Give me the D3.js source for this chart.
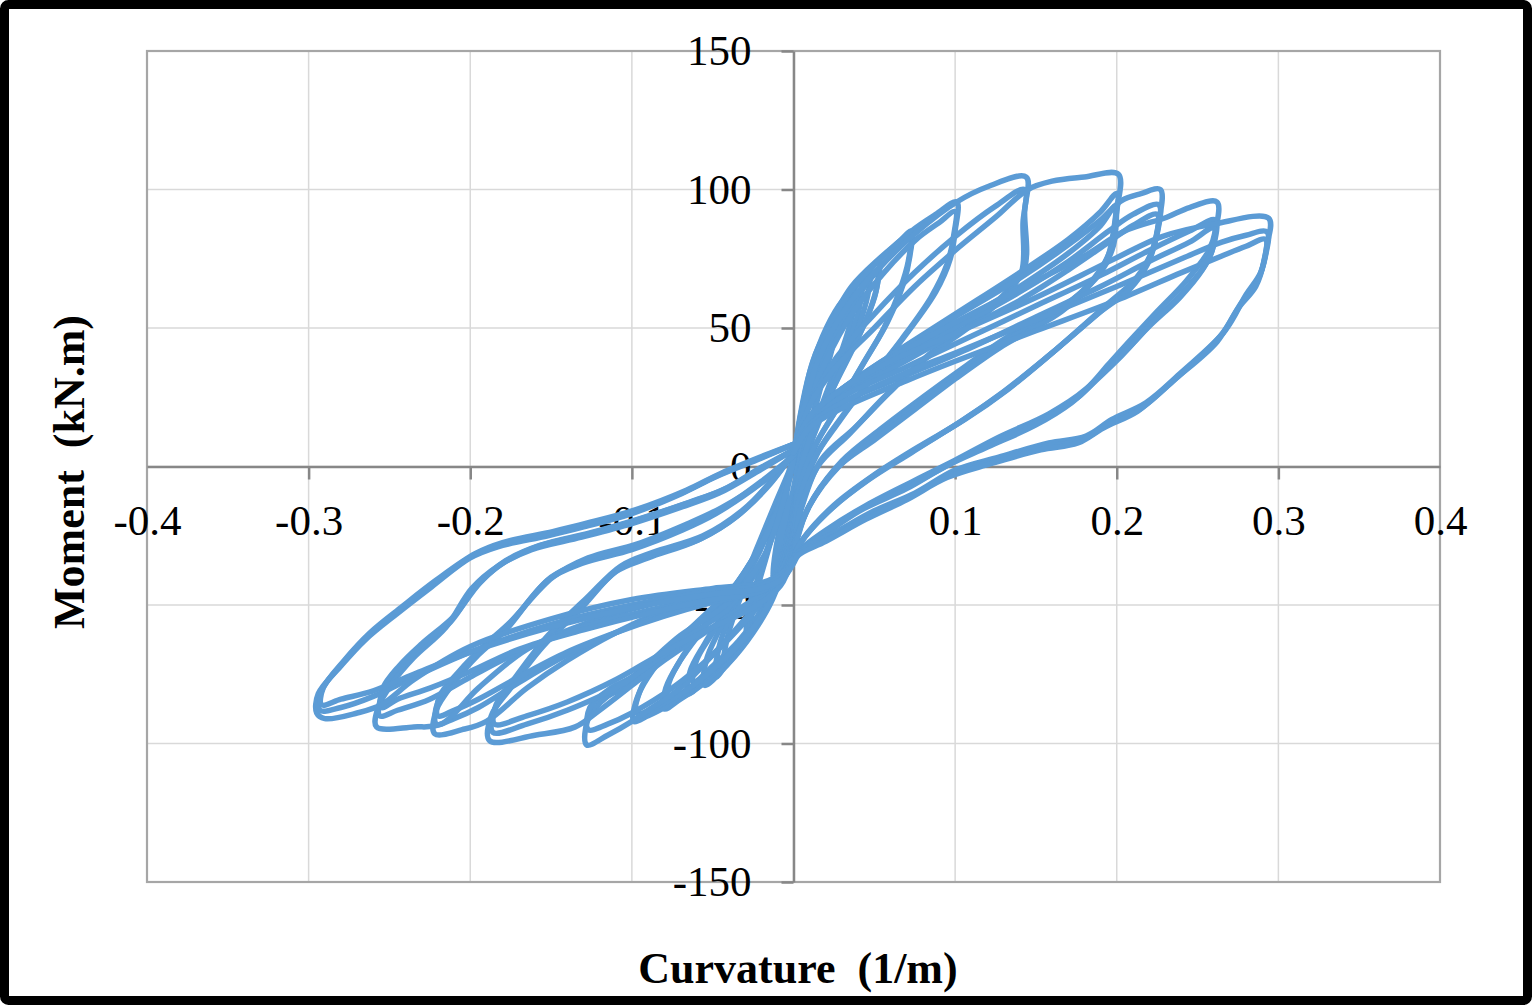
<!DOCTYPE html>
<html>
<head>
<meta charset="utf-8">
<script src="https://cdn.jsdelivr.net/npm/d3@7"></script>
<style>
  html, body { margin: 0; padding: 0; background: #fff; }
  svg { display: block; }
</style>
</head>
<body>
<script>
// ---------- Axis ticks ----------
const xTickValues = [-0.4, -0.3, -0.2, -0.1, 0, 0.1, 0.2, 0.3, 0.4];
const xTickLabels = ["-0.4", "-0.3", "-0.2", "-0.1", "0", "0.1", "0.2", "0.3", "0.4"];
const yTickValues = [-150, -100, -50, 0, 50, 100, 150];
const yTickLabels = ["-150", "-100", "-50", "0", "50", "100", "150"];
const xTitle = "Curvature  (1/m)";
const yTitle = "Moment  (kN.m)";

// ---------- Hysteresis cycles [curvature, moment] ----------
const cycleS1 = [[0,0],[0.004,14],[0.008,26],[0.011,33],[0.009,24],[0.005,10],[0.001,-5],[-0.004,-18],[-0.009,-30],[-0.013,-40],[-0.011,-30],[-0.006,-15],[-0.002,-3],[0,2]];
const cycleS2 = [[0,2],[0.005,18],[0.011,32],[0.017,42],[0.023,50],[0.022,42],[0.016,28],[0.009,12],[0.003,-4],[0,-14],[-0.005,-28],[-0.012,-42],[-0.019,-52],[-0.026,-58],[-0.024,-48],[-0.017,-33],[-0.009,-17],[-0.003,-5],[0,3]];
const cycleS2b = [[0,1],[0.006,19],[0.013,34],[0.02,44],[0.025,52],[0.024,43],[0.017,29],[0.01,13],[0.003,-3],[0,-15],[-0.006,-30],[-0.014,-44],[-0.022,-54],[-0.029,-61],[-0.027,-50],[-0.019,-35],[-0.01,-18],[-0.003,-5],[0,2]];
const cycleS3 = [[0,3],[0.006,20],[0.013,36],[0.022,49],[0.03,58],[0.038,64],[0.037,56],[0.03,42],[0.02,26],[0.01,10],[0.003,-6],[0,-16],[-0.006,-32],[-0.015,-48],[-0.026,-60],[-0.036,-68],[-0.043,-72],[-0.041,-62],[-0.032,-46],[-0.02,-28],[-0.009,-12],[-0.002,-2],[0,3]];
const cycleS3b = [[0,3],[0.007,22],[0.015,38],[0.025,52],[0.034,61],[0.042,67],[0.041,58],[0.034,44],[0.023,28],[0.012,11],[0.004,-6],[0,-18],[-0.007,-34],[-0.017,-50],[-0.029,-62],[-0.04,-70],[-0.048,-76],[-0.046,-65],[-0.036,-49],[-0.023,-30],[-0.011,-13],[-0.003,-2],[0,3]];
const cycleS4 = [[0,2],[0.004,18],[0.01,34],[0.018,47],[0.028,58],[0.04,66],[0.047,70],[0.046,62],[0.04,50],[0.031,37],[0.02,22],[0.01,7],[0.003,-8],[0,-20],[-0.005,-34],[-0.013,-48],[-0.025,-60],[-0.04,-71],[-0.055,-79],[-0.054,-70],[-0.045,-58],[-0.032,-43],[-0.019,-27],[-0.008,-12],[-0.002,-2],[0,2]];

const cycleA1 = [[0,3],[0.005,20],[0.012,37],[0.022,51],[0.036,64],[0.046,70],[0.053,74.5],[0.052,66],[0.047,56],[0.038,44],[0.026,30],[0.014,15],[0.005,0],[0,-18],[-0.005,-32],[-0.015,-48],[-0.03,-62],[-0.05,-74],[-0.065,-82],[-0.064,-74],[-0.055,-64],[-0.04,-50],[-0.025,-35],[-0.012,-18],[-0.003,-5],[0,2]];
const cycleA2 = [[0,2],[0.007,20],[0.016,36],[0.028,50],[0.04,62],[0.052,70],[0.051,63],[0.045,53],[0.036,42],[0.024,28],[0.012,13],[0.004,-2],[0,-20],[-0.006,-34],[-0.018,-50],[-0.034,-63],[-0.05,-72],[-0.062,-78],[-0.06,-70],[-0.05,-60],[-0.036,-47],[-0.022,-32],[-0.01,-16],[-0.003,-4],[0,2]];

const cycleB1 = [[0,2],[0.005,20],[0.012,38],[0.022,51],[0.036,65],[0.053,75],[0.065,81],[0.073,85],[0.072,76],[0.068,66],[0.058,52],[0.044,38],[0.028,22],[0.014,8],[0.004,-8],[0,-22],[-0.006,-36],[-0.018,-52],[-0.035,-66],[-0.055,-78],[-0.07,-84],[-0.08,-87.5],[-0.079,-80],[-0.07,-70],[-0.055,-58],[-0.038,-45],[-0.02,-28],[-0.007,-10],[0,3]];
const cycleB2 = [[0,3],[0.008,22],[0.018,38],[0.032,54],[0.048,68],[0.062,77],[0.072,82],[0.071,74],[0.066,64],[0.056,50],[0.042,36],[0.026,20],[0.012,6],[0.003,-9],[0,-23],[-0.007,-38],[-0.02,-53],[-0.038,-67],[-0.058,-78],[-0.078,-85],[-0.077,-78],[-0.068,-68],[-0.053,-56],[-0.036,-43],[-0.018,-26],[-0.006,-9],[0,3]];

const cycleC1 = [[0,3],[0.005,19],[0.012,36],[0.022,50],[0.036,64],[0.053,74.5],[0.073,85],[0.088,91],[0.101,95.5],[0.1,85],[0.097,75],[0.088,63],[0.07,48],[0.05,33],[0.03,18],[0.015,5],[0.004,-12],[0,-25],[-0.008,-40],[-0.02,-54],[-0.04,-68],[-0.06,-78],[-0.08,-87],[-0.09,-90],[-0.099,-92],[-0.097,-84],[-0.09,-76],[-0.075,-65],[-0.055,-54],[-0.035,-42],[-0.015,-22],[-0.004,-5],[0,4]];
const cycleC2 = [[0,4],[0.008,21],[0.02,38],[0.036,55],[0.056,70],[0.076,82],[0.09,88],[0.1,92],[0.099,83],[0.095,73],[0.085,61],[0.067,46],[0.047,31],[0.028,16],[0.013,3],[0.003,-13],[0,-26],[-0.009,-42],[-0.022,-56],[-0.042,-69],[-0.062,-79],[-0.082,-86],[-0.097,-89],[-0.095,-81],[-0.087,-73],[-0.072,-63],[-0.052,-52],[-0.032,-40],[-0.013,-20],[-0.003,-4],[0,4]];

const cycleD1 = [[0,4],[0.006,20],[0.015,38],[0.03,55],[0.05,70],[0.075,84],[0.101,95.5],[0.12,101],[0.144,104.5],[0.143,92],[0.143,72],[0.131,62.6],[0.113,53],[0.085,41],[0.059,26.5],[0.038,14],[0.017,2.3],[0.005,-15],[0,-28],[-0.01,-40],[-0.03,-55],[-0.05,-68],[-0.07,-80],[-0.09,-88],[-0.1,-92],[-0.115,-97],[-0.128,-100.5],[-0.127,-91],[-0.115,-83],[-0.104,-79.6],[-0.073,-64],[-0.042,-52],[-0.02,-35],[-0.006,-12],[0,3]];
const cycleD2 = [[0,3],[0.01,22],[0.025,38],[0.05,55],[0.075,70],[0.1,83],[0.125,94],[0.143,100],[0.142,88],[0.141,70],[0.128,60],[0.11,51],[0.082,39],[0.056,25],[0.035,12],[0.015,0],[0.004,-16],[0,-29],[-0.01,-42],[-0.03,-56],[-0.05,-68],[-0.075,-80],[-0.1,-89],[-0.115,-93],[-0.127,-95],[-0.126,-87],[-0.113,-80],[-0.1,-76],[-0.07,-61],[-0.04,-49],[-0.018,-32],[-0.005,-10],[0,3]];

const cycleE1 = [[0,5],[0.01,22],[0.025,35],[0.05,50],[0.075,65],[0.1,78],[0.125,90],[0.145,100],[0.16,103],[0.18,104.5],[0.201,105.5],[0.2,92],[0.198,80],[0.19,70],[0.172,60],[0.152,53],[0.133,47],[0.106,36],[0.08,25],[0.055,14],[0.03,2],[0.012,-12],[0.002,-25],[0,-30],[-0.01,-42],[-0.03,-50],[-0.055,-60],[-0.08,-70],[-0.1,-79],[-0.12,-88],[-0.135,-94],[-0.16,-97],[-0.188,-99],[-0.187,-90],[-0.175,-80],[-0.155,-65],[-0.131,-51],[-0.11,-38],[-0.09,-33],[-0.059,-26.5],[-0.035,-18],[-0.015,-6],[0,5]];
const cycleE2 = [[0,5],[0.01,18],[0.03,28],[0.06,40],[0.1,55],[0.14,70],[0.17,82],[0.19,92],[0.2,98.5],[0.199,88],[0.196,78],[0.186,68],[0.168,58],[0.148,51],[0.13,45],[0.103,34],[0.078,23],[0.053,12],[0.028,0],[0.01,-14],[0.002,-26],[0,-31],[-0.008,-42],[-0.025,-50],[-0.05,-58],[-0.08,-68],[-0.11,-80],[-0.14,-88],[-0.165,-93],[-0.186,-96],[-0.185,-88],[-0.173,-78],[-0.153,-63],[-0.129,-49],[-0.108,-37],[-0.088,-32],[-0.057,-26],[-0.033,-17],[-0.014,-6],[0,5]];
const cycleE3 = [[0,5],[0.01,17],[0.03,26],[0.06,37],[0.1,51],[0.14,65],[0.17,77],[0.19,87],[0.199,94],[0.198,85],[0.194,75],[0.184,66],[0.166,56],[0.146,49],[0.128,43],[0.101,32],[0.076,21],[0.051,10],[0.026,-1],[0.009,-15],[0.002,-27],[0,-32],[-0.008,-43],[-0.025,-51],[-0.05,-58],[-0.08,-67],[-0.11,-77],[-0.14,-85],[-0.165,-90],[-0.185,-93],[-0.184,-86],[-0.172,-76],[-0.152,-61],[-0.128,-47.5],[-0.107,-36],[-0.087,-31],[-0.056,-25],[-0.032,-16],[-0.013,-5],[0,5]];

const cycleF1 = [[0,5],[0.01,18],[0.03,28],[0.06,40],[0.1,54],[0.14,68],[0.17,80],[0.19,89],[0.203,96],[0.215,98.5],[0.227,100],[0.226,88],[0.222,78],[0.212,68],[0.193,58],[0.164,43],[0.133,28],[0.106,17],[0.077,7],[0.05,-3],[0.025,-14],[0.006,-26],[0,-32],[-0.006,-38],[-0.02,-43],[-0.05,-47],[-0.08,-52],[-0.11,-60],[-0.14,-70],[-0.165,-80],[-0.19,-92],[-0.205,-95],[-0.222,-96.5],[-0.221,-88],[-0.21,-78],[-0.195,-68],[-0.178,-59],[-0.152,-41],[-0.131,-35],[-0.1,-30],[-0.069,-23],[-0.048,-17],[-0.02,-6],[0,4]];
const cycleF2 = [[0,4],[0.01,17],[0.03,26],[0.06,37],[0.1,50],[0.14,63],[0.17,74],[0.195,85],[0.21,91],[0.226,94.5],[0.225,84],[0.22,75],[0.21,66],[0.19,56],[0.16,41],[0.13,27],[0.103,16],[0.075,6],[0.048,-4],[0.024,-15],[0.005,-27],[0,-33],[-0.006,-39],[-0.02,-44],[-0.05,-48],[-0.08,-53],[-0.11,-60],[-0.14,-68],[-0.17,-78],[-0.195,-87],[-0.21,-91],[-0.221,-93],[-0.22,-85],[-0.208,-76],[-0.193,-66],[-0.176,-57],[-0.15,-40],[-0.128,-34],[-0.098,-29],[-0.068,-22],[-0.046,-16],[-0.019,-5],[0,4]];
const cycleF3 = [[0,4],[0.01,16],[0.03,25],[0.06,35],[0.1,48],[0.14,60],[0.17,71],[0.195,81],[0.21,87],[0.225,91],[0.224,82],[0.219,73],[0.208,64],[0.188,55],[0.158,40],[0.128,26],[0.1,15],[0.073,5],[0.046,-5],[0.022,-16],[0.004,-28],[0,-33],[-0.006,-40],[-0.02,-45],[-0.05,-49],[-0.08,-54],[-0.11,-60],[-0.14,-67],[-0.17,-76],[-0.195,-84],[-0.21,-88],[-0.22,-90],[-0.219,-83],[-0.207,-74],[-0.192,-65],[-0.175,-56],[-0.149,-40],[-0.127,-33],[-0.097,-28],[-0.067,-21],[-0.045,-15],[-0.018,-5],[0,4]];

const cycleG1 = [[0,6],[0.01,18],[0.03,28],[0.06,39],[0.1,52],[0.14,64],[0.18,76],[0.205,85],[0.231,90],[0.245,93.5],[0.262,95.5],[0.261,85],[0.257,78],[0.243,67],[0.225,56],[0.209,46],[0.195,37],[0.181,28],[0.158,19],[0.127,10.6],[0.1,2.3],[0.075,-5],[0.045,-14],[0.02,-23],[0.004,-30],[0,-33],[-0.006,-39],[-0.02,-43],[-0.05,-46],[-0.09,-50],[-0.13,-57],[-0.165,-66],[-0.195,-80],[-0.218,-93],[-0.235,-94],[-0.258,-94],[-0.257,-87],[-0.248,-78],[-0.235,-69],[-0.215,-58],[-0.199,-44],[-0.183,-36],[-0.162,-30],[-0.131,-25.5],[-0.1,-20.6],[-0.069,-14.6],[-0.046,-9.6],[-0.02,-1],[0,6]];
const cycleG2 = [[0,5],[0.01,16],[0.03,25],[0.07,36],[0.11,47],[0.15,58],[0.19,69],[0.22,78],[0.245,85],[0.261,89],[0.26,80],[0.255,73],[0.241,63],[0.222,52],[0.206,42],[0.19,33],[0.176,25],[0.154,17],[0.124,9],[0.097,1],[0.072,-7],[0.043,-15],[0.019,-24],[0.004,-31],[0,-34],[-0.006,-40],[-0.02,-44],[-0.05,-47],[-0.09,-52],[-0.13,-58],[-0.17,-67],[-0.2,-76],[-0.225,-84],[-0.245,-88],[-0.256,-90],[-0.255,-83],[-0.246,-75],[-0.232,-66],[-0.212,-56],[-0.196,-43],[-0.18,-35],[-0.159,-29],[-0.128,-24.5],[-0.098,-19.5],[-0.067,-13.5],[-0.044,-8.5],[-0.019,0],[0,6]];
const cycleG3 = [[0,5],[0.01,15],[0.03,23],[0.07,33],[0.11,43],[0.15,54],[0.19,65],[0.22,74],[0.245,81],[0.26,86],[0.259,78],[0.253,71],[0.239,61],[0.219,50],[0.203,40],[0.187,31],[0.172,23],[0.15,15],[0.12,7],[0.094,0],[0.07,-8],[0.041,-16],[0.018,-25],[0.003,-31],[0,-34],[-0.006,-40],[-0.02,-45],[-0.05,-48],[-0.09,-53],[-0.13,-59],[-0.17,-66],[-0.2,-74],[-0.225,-80],[-0.245,-84],[-0.255,-87],[-0.254,-80],[-0.244,-72],[-0.23,-64],[-0.21,-54],[-0.194,-42],[-0.178,-34],[-0.157,-28.5],[-0.126,-24],[-0.096,-19],[-0.065,-13],[-0.042,-8],[-0.018,0],[0,6]];

const cycleH1 = [[0,6],[0.01,18],[0.03,28],[0.06,38],[0.1,48],[0.15,61],[0.197,74.5],[0.228,83],[0.26,87.5],[0.294,89.6],[0.293,80],[0.289,70],[0.28,62],[0.267,49],[0.24,34],[0.218,23],[0.197,17],[0.181,11],[0.158,8.5],[0.127,3.4],[0.1,-1.3],[0.075,-9.6],[0.05,-16],[0.025,-24],[0.005,-30],[0,-33],[-0.006,-38],[-0.02,-42],[-0.05,-44],[-0.1,-48],[-0.15,-55],[-0.2,-65],[-0.235,-77],[-0.255,-86],[-0.27,-89],[-0.29,-91],[-0.295,-89],[-0.294,-82],[-0.28,-72],[-0.265,-62.6],[-0.245,-53],[-0.224,-43.5],[-0.2,-33],[-0.183,-29],[-0.152,-25],[-0.131,-22],[-0.1,-17],[-0.069,-9.7],[-0.048,-3.7],[-0.02,3],[0,8]];
const cycleH2 = [[0,6],[0.01,15],[0.03,23],[0.07,34],[0.1,41],[0.15,53],[0.2,65],[0.24,75],[0.265,81],[0.28,83.5],[0.293,84.7],[0.292,76],[0.287,67],[0.277,59],[0.264,47],[0.237,32],[0.215,21],[0.194,15],[0.178,9.5],[0.155,7],[0.124,2],[0.097,-3],[0.072,-11],[0.047,-18],[0.022,-26],[0.004,-31],[0,-34],[-0.006,-39],[-0.02,-43],[-0.05,-45],[-0.1,-50],[-0.15,-57],[-0.2,-67],[-0.235,-76],[-0.26,-83],[-0.28,-87],[-0.293,-88],[-0.292,-81],[-0.279,-71],[-0.263,-61],[-0.243,-51.5],[-0.222,-42],[-0.198,-32],[-0.181,-28],[-0.15,-24],[-0.129,-21],[-0.098,-16],[-0.067,-9],[-0.046,-3],[-0.019,3.5],[0,8]];
const cycleH3 = [[0,5],[0.01,14],[0.03,21],[0.07,31],[0.1,38],[0.15,49],[0.2,60],[0.24,70],[0.265,76],[0.28,79.5],[0.292,82],[0.291,74],[0.286,65],[0.275,57],[0.262,45],[0.235,31],[0.213,20],[0.192,14],[0.176,8.5],[0.153,6],[0.122,1],[0.095,-4],[0.07,-12],[0.045,-19],[0.02,-27],[0.003,-32],[0,-35],[-0.006,-40],[-0.02,-44],[-0.05,-46],[-0.1,-51],[-0.15,-58],[-0.2,-67],[-0.235,-75],[-0.26,-81],[-0.28,-84],[-0.292,-86],[-0.291,-80],[-0.278,-70],[-0.262,-60],[-0.242,-50.5],[-0.221,-41],[-0.197,-31.5],[-0.18,-27.5],[-0.149,-23.5],[-0.128,-20.5],[-0.097,-15.5],[-0.066,-8.5],[-0.045,-2.5],[-0.018,4],[0,8]];

const allCycles = [cycleS1, cycleS2, cycleS2b, cycleS3, cycleS3b, cycleS4, cycleA1, cycleA2, cycleB1, cycleB2, cycleC1, cycleC2,
  cycleD1, cycleD2, cycleE1, cycleE2, cycleE3, cycleF1, cycleF2, cycleF3,
  cycleG1, cycleG2, cycleG3, cycleH1, cycleH2, cycleH3];

// ---------- Drawing ----------
const W = 1532, H = 1005;
const plot = { left: 147, right: 1440, top: 51, bottom: 882 };
const serif = "'Liberation Serif', 'Times New Roman', Times, serif";

const svg = d3.select("body").append("svg").attr("width", W).attr("height", H);
svg.append("rect").attr("x", 0).attr("y", 0).attr("width", W).attr("height", H).attr("fill", "#fff");

const x = d3.scaleLinear().domain([-0.4, 0.4]).range([plot.left, plot.right]);
const y = d3.scaleLinear().domain([-150, 150]).range([plot.bottom, plot.top]);

// gridlines
const grid = svg.append("g").attr("stroke", "#d9d9d9").attr("stroke-width", 1.5);
xTickValues.forEach(v => grid.append("line")
  .attr("x1", x(v)).attr("x2", x(v)).attr("y1", plot.top).attr("y2", plot.bottom));
yTickValues.forEach(v => grid.append("line")
  .attr("x1", plot.left).attr("x2", plot.right).attr("y1", y(v)).attr("y2", y(v)));

// plot border
svg.append("rect")
  .attr("x", plot.left).attr("y", plot.top)
  .attr("width", plot.right - plot.left).attr("height", plot.bottom - plot.top)
  .attr("fill", "none").attr("stroke", "#a6a6a6").attr("stroke-width", 2.2);

// axes through the origin
const xAxis = d3.axisBottom(x).tickValues(xTickValues)
  .tickFormat((d, i) => xTickLabels[i]).tickSize(13).tickSizeOuter(0).tickPadding(25);
const yAxis = d3.axisLeft(y).tickValues(yTickValues)
  .tickFormat((d, i) => yTickLabels[i]).tickSize(12).tickSizeOuter(0).tickPadding(30);

const gx = svg.append("g").attr("transform", `translate(0,${y(0)})`).call(xAxis);
const gy = svg.append("g").attr("transform", `translate(${x(0)},0)`).call(yAxis);
[gx, gy].forEach(g => {
  g.select(".domain").attr("stroke", "#878787").attr("stroke-width", 2.5);
  g.selectAll(".tick line").attr("stroke", "#878787").attr("stroke-width", 2.5);
  g.selectAll(".tick text").attr("fill", "#000")
    .style("font-family", serif).style("font-size", "43px");
});
gx.selectAll(".tick").filter(d => d === -0.4 || d === 0.4).select("line").remove();

// data
const line = d3.line().x(d => x(d[0])).y(d => y(d[1])).curve(d3.curveCatmullRom.alpha(0.5));
svg.append("g").selectAll("path").data(allCycles).join("path")
  .attr("d", line)
  .attr("fill", "none")
  .attr("stroke", "#5b9bd5")
  .attr("stroke-width", 5.5)
  .attr("stroke-linejoin", "round")
  .attr("stroke-linecap", "round");

// titles
svg.append("text")
  .attr("x", 798).attr("y", 983)
  .attr("text-anchor", "middle")
  .style("font-family", serif).style("font-weight", "bold").style("font-size", "44px")
  .style("white-space", "pre")
  .text(xTitle);

svg.append("text")
  .attr("transform", "translate(84,472) rotate(-90)")
  .attr("text-anchor", "middle")
  .style("font-family", serif).style("font-weight", "bold").style("font-size", "44px")
  .style("white-space", "pre")
  .text(yTitle);

// outer frame
svg.append("rect")
  .attr("x", 4.5).attr("y", 4.5).attr("width", W - 9).attr("height", H - 9)
  .attr("rx", 4).attr("fill", "none").attr("stroke", "#000").attr("stroke-width", 9);
</script>
</body>
</html>
